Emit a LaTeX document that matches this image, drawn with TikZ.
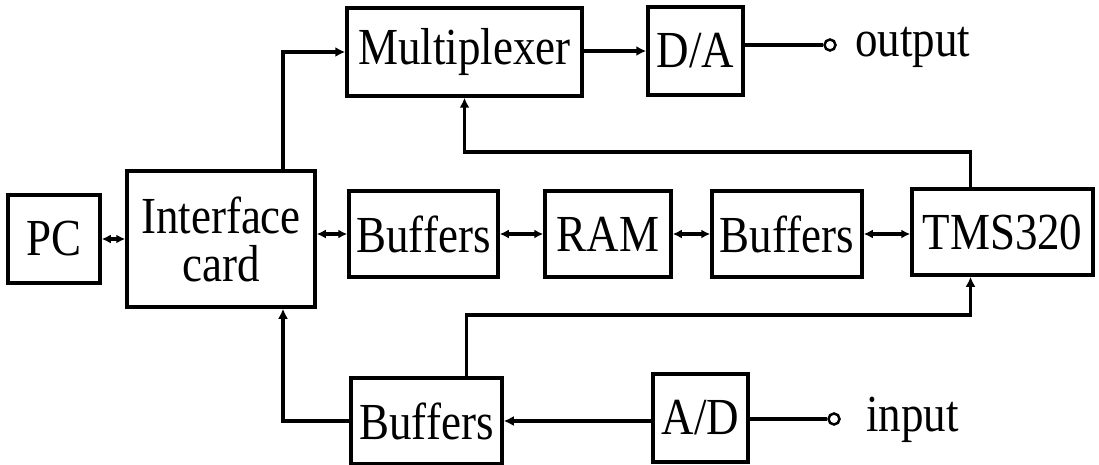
\documentclass[tikz,border=0pt]{standalone}
\usepackage{fontspec}
\setmainfont[FakeStretch=0.865]{Liberation Serif}
\usetikzlibrary{arrows.meta}
\begin{document}
\begin{tikzpicture}[x=1pt,y=-1pt,
  blk/.style={draw,line width=3.5pt,inner sep=0pt,align=center,font=\fontsize{52}{48}\selectfont},
  con/.style={line width=3.5pt},
  tip/.style={-{Latex[length=10pt,width=10pt]}},
  bi/.style={{Latex[length=9pt,width=9pt]}-{Latex[length=9pt,width=9pt]}},
  term/.style={circle,draw,fill=white,line width=2.5pt,minimum size=11pt,inner sep=0pt},
  lbl/.style={anchor=base west,inner sep=0pt,font=\fontsize{52}{48}\selectfont}]
\useasboundingbox (0,0) rectangle (1099,465);
% blocks
\node[blk,minimum width=92pt,minimum height=88pt] (pc) at (54,239) {PC};
\node[blk,minimum width=188pt,minimum height=136pt] (iface) at (221,239) {Interface\\card};
\node[blk,minimum width=149pt,minimum height=86pt] (buf1) at (423.5,234) {Buffers};
\node[blk,minimum width=126pt,minimum height=86pt] (ram) at (608,234) {RAM};
\node[blk,minimum width=150pt,minimum height=86pt] (buf2) at (787,234) {Buffers};
\node[blk,minimum width=181pt,minimum height=86pt] (tms) at (1002.5,232) {TMS320};
\node[blk,minimum width=235pt,minimum height=88pt] (mux) at (464.5,52) {Multiplexer};
\node[blk,minimum width=95pt,minimum height=88pt] (da) at (695.5,51) {D/A};
\node[blk,minimum width=151pt,minimum height=86pt] (bbuf) at (426.5,421) {Buffers};
\node[blk,minimum width=95pt,minimum height=88pt] (ad) at (700.5,418) {A/D};
% terminals
\node[term] (out) at (830,45) {};
\node[lbl] (outl) at (855,57) {output};
\node[term] (in) at (834,419) {};
\node[lbl] (inl) at (866,431) {input};
% middle row
\draw[con,bi] (pc) -- (iface.west |- pc);
\draw[con,bi] (iface.east |- buf1) -- (buf1);
\draw[con,bi] (buf1) -- (ram);
\draw[con,bi] (ram) -- (buf2);
\draw[con,bi] (buf2.east) -- (tms.west |- buf2.east);
% top
\draw[con,tip] ([xshift=62pt]iface.north) |- (mux.west);
\draw[con,tip] (mux.east |- da) -- (da);
\draw[con] (da.east |- out) -- (out);
\coordinate (t1) at (0,152);
\draw[con,tip] ([xshift=-32pt]tms.north) |- (t1 -| mux.south) -- (mux.south);
% bottom
\coordinate (t2) at (0,315);
\draw[con,tip] ([xshift=40pt]bbuf.north) |- ([xshift=-32pt]tms.south |- t2) -- ([xshift=-32pt]tms.south);
\draw[con,tip] (ad.west |- bbuf) -- (bbuf);
\draw[con] (ad.east |- in) -- (in);
\draw[con,tip] (bbuf.west) -| ([xshift=62pt]iface.south);
\end{tikzpicture}
\end{document}
